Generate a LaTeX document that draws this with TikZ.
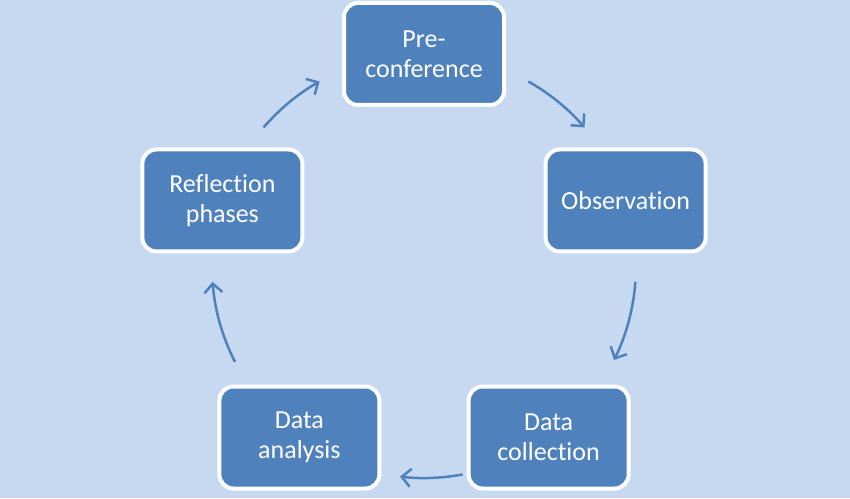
\documentclass[tikz,border=0pt]{standalone}
\usepackage{fontspec}
\setmainfont{Carlito}[Ligatures=NoCommon]
\usetikzlibrary{
    arrows.meta,
    calc
}
\definecolor{bgblue}{HTML}{C6D9F1}
\definecolor{boxblue}{HTML}{4F81BD}

\begin{document}
\begin{tikzpicture}[x=1pt, y=1pt,
    stage/.style={draw=white, line width=4pt, fill=boxblue, rounded corners=14pt,
        minimum width=160pt, minimum height=102pt, align=center, text=white,
        font=\fontsize{26}{30}\selectfont},
    cyclearrow/.style={draw=boxblue, line width=2.5pt,
        -{Straight Barb[length=9pt,width=18pt]}}]

% Background
\fill[bgblue] (0,0) rectangle (850,498);

\coordinate (c) at (424,232);  % centre of the cycle
\def\R{212}                    % radius

% Stages, 72deg apart
\node[stage] (pre)  at ($(c)+(90:\R)$)   {Pre-\\conference};
\node[stage] (obs)  at ($(c)+(18:\R)$)   {Observation};
\node[stage] (coll) at ($(c)+(-54:\R)$)  {Data\\collection};
\node[stage] (ana)  at ($(c)+(-126:\R)$) {Data\\analysis};
\node[stage] (refl) at ($(c)+(162:\R)$)  {Reflection\\phases};

% Arrows along the circle
\foreach \a/\b [count=\i] in {60.5/40.8, -4.3/-26.3, -79.5/-96.5, -153.1/-175.7, 139.2/119.5}{
    \coordinate (s\i) at ($(c)+(\a:\R)$);
    \draw[cyclearrow] (s\i) arc (\a:\b:\R);
}

\end{tikzpicture}
\end{document}
